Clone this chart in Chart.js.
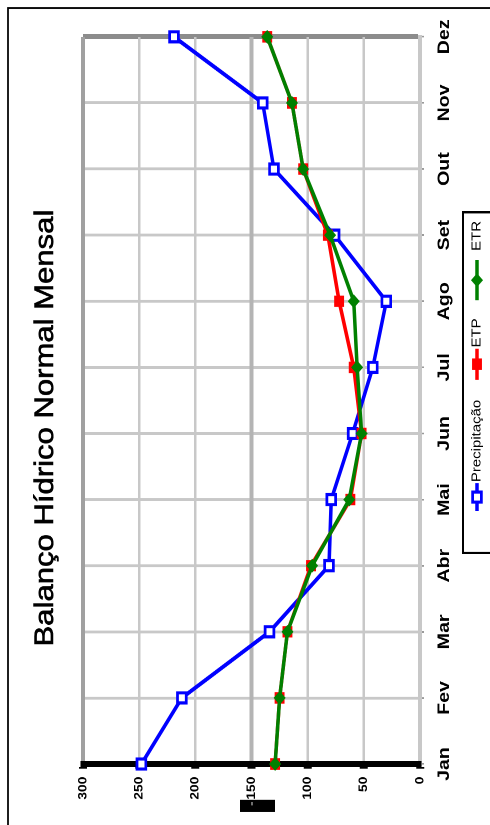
<!DOCTYPE html>
<html lang="pt">
<head>
<meta charset="utf-8">
<title>Balanço Hídrico Normal Mensal</title>
<script src="https://cdn.jsdelivr.net/npm/chart.js@4/dist/chart.umd.min.js"></script>
<style>
  html, body { margin: 0; padding: 0; background: #fff; overflow: hidden; }
  body { width: 490px; height: 825px; position: relative; }
  /* the chart is laid out landscape, then turned a quarter turn to stand upright */
  #wrap {
    position: absolute; left: 0; top: 0;
    width: 717px; height: 490px;
    transform-origin: 0 0;
    transform: translate(0px, 825px) rotate(-90deg) scaleX(1.1506);
  }
  #chart { display: block; }
</style>
</head>
<body>
<div id="wrap"><canvas id="chart" width="717" height="490"></canvas></div>
<script>
// Monthly water balance (mm)
const months = ['Jan', 'Fev', 'Mar', 'Abr', 'Mai', 'Jun', 'Jul', 'Ago', 'Set', 'Out', 'Nov', 'Dez'];
const precipitacao = [248, 212, 134, 81, 79, 60, 42, 30, 76, 130, 140, 219];
const etp = [129, 125, 118, 97, 62, 52, 59, 72, 82, 104, 114, 136];
const etr = [129, 125, 118, 96, 63, 52, 56, 59, 80, 104, 114, 136];
const valueMin = 0;
const valueMax = 300;
const valueStep = 50;
const chartTitle = 'Balanço Hídrico Normal Mensal';
const unitLabel = 'mm';

const FONT = "'Liberation Sans', Arial, Helvetica, sans-serif";

function drawMarker(ctx, style, x, y, r, fill, stroke, bw) {
  ctx.save();
  ctx.beginPath();
  if (style === 'rectRot') {
    ctx.moveTo(x, y - r); ctx.lineTo(x + r, y); ctx.lineTo(x, y + r); ctx.lineTo(x - r, y);
    ctx.closePath();
  } else {
    const s = Math.SQRT1_2 * r;
    ctx.rect(x - s, y - s, 2 * s, 2 * s);
  }
  ctx.fillStyle = fill;
  ctx.fill();
  if (bw > 0) { ctx.lineWidth = bw; ctx.strokeStyle = stroke; ctx.stroke(); }
  ctx.restore();
}

// frame, title, unit box and the line-and-marker legend
const decorations = {
  id: 'decorations',
  afterDraw(chart) {
    const ctx = chart.ctx;
    ctx.save();
    // outer frame
    ctx.strokeStyle = '#000';
    ctx.lineWidth = 1.8;
    ctx.beginPath();
    ctx.moveTo(0, 8); ctx.lineTo(710, 8); ctx.lineTo(710, 495);
    ctx.stroke();

    // title
    ctx.fillStyle = '#000';
    ctx.font = '27px ' + FONT;
    ctx.textAlign = 'center';
    ctx.textBaseline = 'alphabetic';
    ctx.lineWidth = 0.6;
    ctx.strokeStyle = '#000';
    ctx.fillText(chartTitle, 345, 53);
    ctx.strokeText(chartTitle, 345, 53);

    // unit box on the value axis
    ctx.fillStyle = '#000';
    ctx.fillRect(11.5, 240, 10.5, 35);
    ctx.save();
    ctx.translate(17, 257);
    ctx.rotate(-Math.PI / 2);
    ctx.font = 'bold 9px ' + FONT;
    ctx.textAlign = 'center';
    ctx.textBaseline = 'middle';
    ctx.fillText(unitLabel, 0, 0);
    ctx.restore();
    ctx.strokeStyle = '#ddd';
    ctx.lineWidth = 1;
    ctx.beginPath(); ctx.moveTo(17, 252); ctx.lineTo(20, 252); ctx.stroke();

    // legend
    ctx.strokeStyle = '#000';
    ctx.lineWidth = 2;
    ctx.strokeRect(236.5, 463, 296, 45);
    const items = [
      { ds: chart.data.datasets[0], x0: 273, x1: 297, tx: 298 },
      { ds: chart.data.datasets[1], x0: 387, x1: 414, tx: 415 },
      { ds: chart.data.datasets[2], x0: 456, x1: 491, tx: 499 }
    ];
    const ly = 477;
    items.forEach(it => {
      const ds = it.ds;
      ctx.strokeStyle = ds.borderColor;
      ctx.lineWidth = 3.5;
      ctx.beginPath(); ctx.moveTo(it.x0, ly); ctx.lineTo(it.x1, ly); ctx.stroke();
      drawMarker(ctx, ds.pointStyle, (it.x0 + it.x1) / 2, ly, ds.pointRadius,
        ds.pointBackgroundColor, ds.pointBorderColor, ds.pointBorderWidth);
      ctx.fillStyle = '#000';
      ctx.font = '13px ' + FONT;
      ctx.textAlign = 'left';
      ctx.textBaseline = 'middle';
      ctx.fillText(ds.label, it.tx, ly);
    });
    ctx.restore();
  }
};

new Chart(document.getElementById('chart'), {
  type: 'line',
  data: {
    labels: months,
    datasets: [
      {
        label: 'Precipitação',
        data: precipitacao,
        borderColor: '#0000ff',
        borderWidth: 3.5,
        pointStyle: 'rect',
        pointRadius: 6.2,
        pointBackgroundColor: '#ffffff',
        pointBorderColor: '#0000ff',
        pointBorderWidth: 2.7,
        tension: 0,
        clip: false,
        order: 2
      },
      {
        label: 'ETP',
        data: etp,
        borderColor: '#ff0000',
        borderWidth: 3.5,
        pointStyle: 'rect',
        pointRadius: 7,
        pointBackgroundColor: '#ff0000',
        pointBorderColor: '#ff0000',
        pointBorderWidth: 0,
        tension: 0,
        clip: false,
        order: 1
      },
      {
        label: 'ETR',
        data: etr,
        borderColor: '#008000',
        borderWidth: 3.5,
        pointStyle: 'rectRot',
        pointRadius: 6,
        pointBackgroundColor: '#008000',
        pointBorderColor: '#008000',
        pointBorderWidth: 0,
        tension: 0,
        clip: false,
        order: 0
      }
    ]
  },
  options: {
    responsive: false,
    animation: false,
    devicePixelRatio: 2,
    layout: { padding: { left: 0, right: 32, top: 83, bottom: 0 } },
    plugins: {
      legend: { display: false },
      title: { display: false },
      tooltip: { enabled: false }
    },
    scales: {
      x: {
        type: 'category',
        offset: false,
        afterFit(scale) { scale.height = 70; },
        grid: {
          color: c => c.index === months.length - 1 ? '#8c8c8c' : '#c8c8c8',
          lineWidth: c => c.index === months.length - 1 ? 4.5 : 2.5,
          drawTicks: true,
          tickLength: 4,
          tickColor: '#9a9a9a',
          tickWidth: 1.5
        },
        border: { display: true, color: '#c8c8c8', width: 4 },
        ticks: {
          autoSkip: false,
          maxRotation: 0,
          minRotation: 0,
          padding: 10,
          color: '#000',
          font: { family: FONT, size: 17, weight: 'bold' }
        }
      },
      y: {
        min: valueMin,
        max: valueMax,
        afterFit(scale) { scale.width = 53; },
        grid: {
          color: c => c.tick.value === valueMax ? '#a0a0a0' : (c.tick.value === 150 ? '#b4b4b4' : '#c8c8c8'),
          lineWidth: c => (c.tick.value === valueMax || c.tick.value === 150) ? 4 : 2.5,
          drawTicks: true,
          tickLength: 4,
          tickColor: '#000',
          tickWidth: 8
        },
        border: { display: true, color: '#000', width: 5 },
        ticks: {
          stepSize: valueStep,
          padding: 7,
          color: '#000',
          font: { family: FONT, size: 12, weight: 'bold' }
        }
      }
    }
  },
  plugins: [decorations]
});
</script>
</body>
</html>
